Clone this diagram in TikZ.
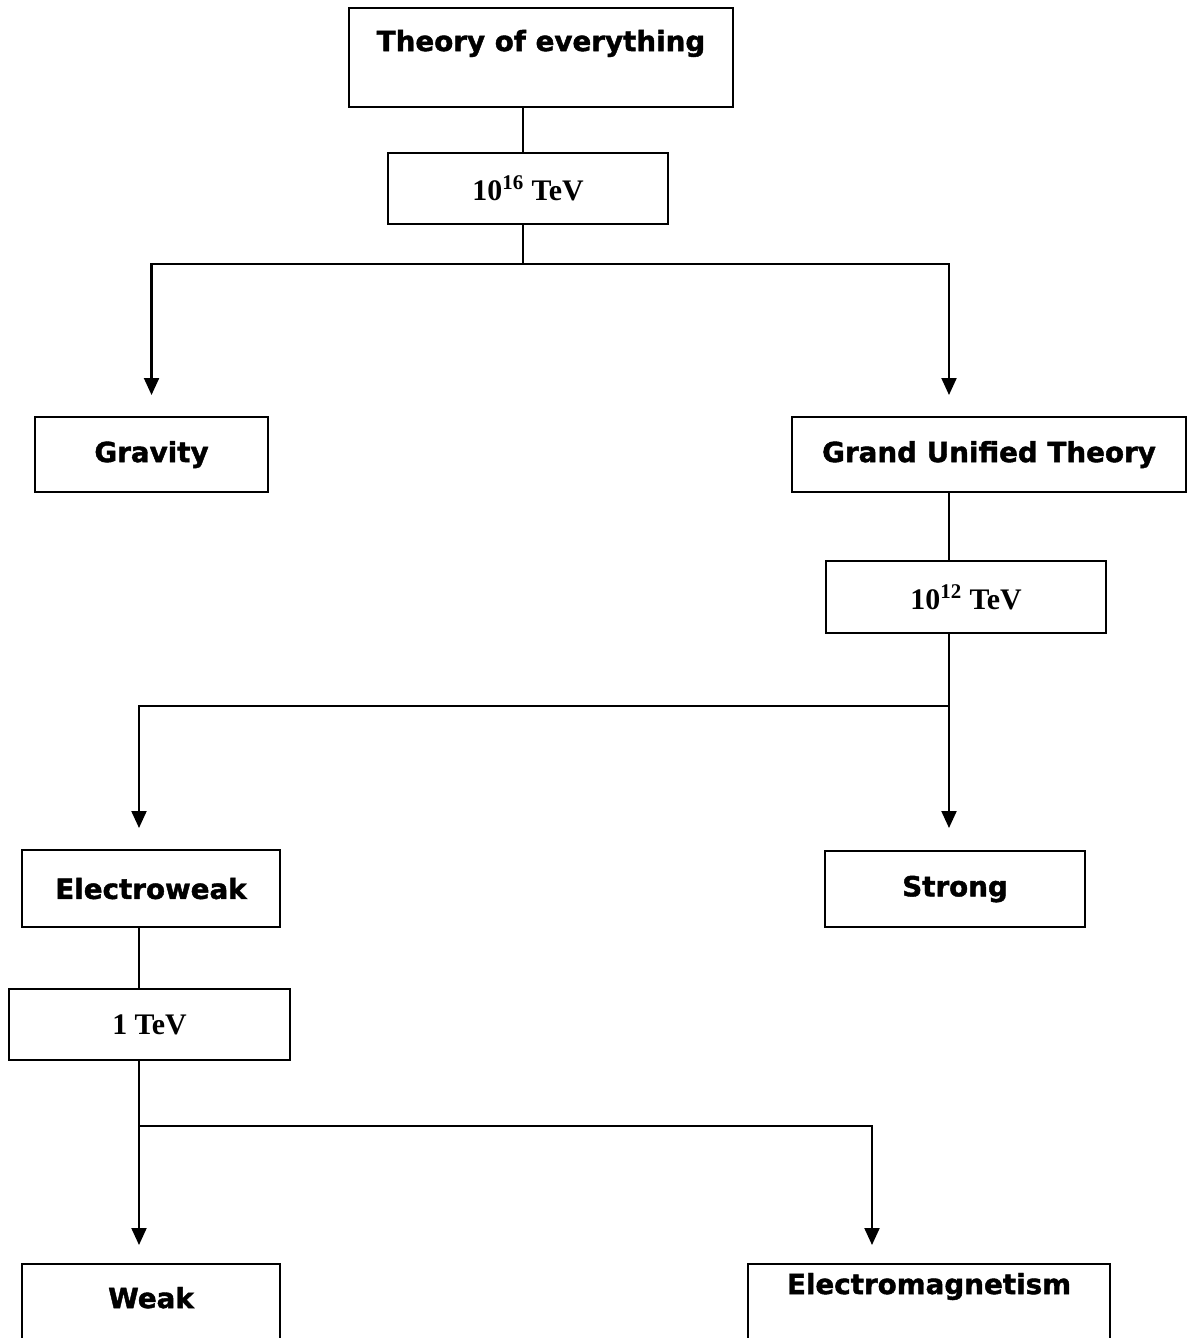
\documentclass[tikz,border=0pt]{standalone}
\usepackage{fontspec}
\setmainfont{Liberation Serif}
\newfontfamily\heavyfont{DejaVu Sans}[BoldFeatures={FakeBold=1.5}]
\usepackage{tikz}
\usetikzlibrary{arrows.meta, positioning}

\begin{document}
\begin{tikzpicture}[
  x=0.02cm, y=-0.02cm,
  line width=1.2pt,
  % Box styles
  theory/.style={draw, anchor=north west, inner sep=0pt, align=center,
                 font=\heavyfont\bfseries\fontsize{15.8}{18}\selectfont},
  energy/.style={draw, anchor=north west, inner sep=0pt, align=center,
                 font=\bfseries\fontsize{17}{19}\selectfont},
  arrow/.style={-{Triangle[length=0.34cm, width=0.3cm]}},
]
\useasboundingbox (0,0) rectangle (1188,1338);

% ---- TOP ----
\node[theory, minimum width=7.68cm, text height=0.86cm, text depth=1.12cm]
      (toe) at (348,7) {Theory of everything};
\node[energy, minimum width=5.6cm, minimum height=1.42cm]
      (e16) at (387,152) {10\textsuperscript{16} TeV};

% ---- FIRST SPLIT ----
\node[theory, minimum width=4.66cm, minimum height=1.5cm]
      (grav) at (34,416) {Gravity};
\node[theory, minimum width=7.88cm, minimum height=1.5cm]
      (gut) at (791,416) {Grand Unified Theory};
\node[energy, minimum width=5.6cm, minimum height=1.44cm]
      (e12) at (825,560) {10\textsuperscript{12} TeV};

% ---- SECOND SPLIT ----
\node[theory, minimum width=5.16cm, minimum height=1.54cm]
      (ew) at (21,849) {Electroweak};
\node[theory, minimum width=5.2cm, minimum height=1.52cm]
      (strong) at (824,850) {Strong};
\node[energy, minimum width=5.62cm, minimum height=1.42cm]
      (e1) at (8,988) {1 TeV};

% ---- THIRD SPLIT ----
\node[theory, minimum width=5.16cm, text height=0.88cm, text depth=1.2cm]
      (weak) at (21,1263) {Weak};
\node[theory, minimum width=7.24cm, text height=0.6cm, text depth=1.4cm]
      (em) at (747,1263) {Electromagnetism};

% junction points
\coordinate (j1) at (523,264);
\coordinate (j2) at (949,706);
\coordinate (j3) at (139,1126);
\coordinate (j4) at (872,1126);

% ---- CONNECTORS ----
\draw (toe.south -| j1) -- (e16.north -| j1);
\draw (e16.south -| j1) -- (j1);
\draw[arrow, shorten >=0.42cm] (j1) -| (grav.north);
\draw[arrow, shorten >=0.42cm] (j1) -| (gut.north -| j2);

\draw (gut.south -| j2) -- (e12.north -| j2);
\draw (e12.south -| j2) -- (j2);
\draw[arrow, shorten >=0.42cm] (j2) -| (ew.north -| j3);
\draw[arrow, shorten >=0.44cm] (j2) -- (strong.north -| j2);

\draw (ew.south -| j3) -- (e1.north -| j3);
\draw (e1.south -| j3) -- (j3);
\draw[arrow, shorten >=0.36cm] (j3) -- (weak.north -| j3);
\draw[arrow, shorten >=0.36cm] (j3) -- (j4) -- (em.north -| j4);

\end{tikzpicture}
\end{document}
